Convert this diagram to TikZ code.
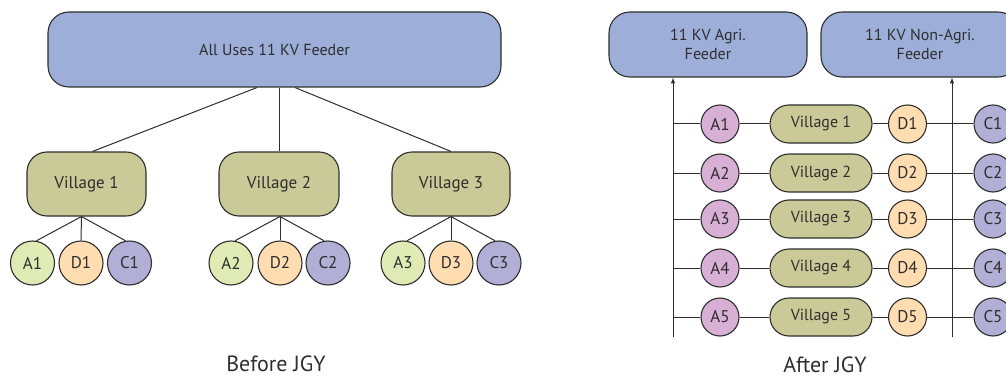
\documentclass[tikz,border=0pt]{standalone}
\usepackage{fontspec}
\setmainfont{PT Sans}
\definecolor{feedblue}{HTML}{9DAFD9}
\definecolor{villgreen}{HTML}{CACA98}
\definecolor{agrgreen}{HTML}{DFEAB4}
\definecolor{domorange}{HTML}{FFDDB0}
\definecolor{compurple}{HTML}{B2AFD6}
\definecolor{agrpink}{HTML}{D8B0D5}
\definecolor{ink}{HTML}{2E2E2E}
\tikzset{
  feeder/.style={draw=ink,line width=1.1pt,fill=feedblue,rounded corners=21pt,inner sep=0pt,align=center,font=\fontsize{16}{19}\selectfont},
  village/.style={draw=ink,line width=1.1pt,fill=villgreen,rounded corners=20pt,minimum height=64pt,inner sep=0pt,font=\fontsize{17}{20}\selectfont},
  pill/.style={draw=ink,line width=1.1pt,fill=villgreen,rounded corners=19pt,minimum width=102pt,minimum height=38pt,inner sep=0pt,font=\fontsize{16}{19}\selectfont},
  load/.style={draw=ink,line width=1.1pt,circle,inner sep=0pt,font=\fontsize{17}{20}\selectfont},
  big/.style={load,minimum size=44pt},
  small/.style={load,minimum size=38pt},
  wire/.style={draw=ink,line width=1pt}
}
\begin{document}
\begin{tikzpicture}[x=1pt,y=-1pt,text=ink]
\useasboundingbox (0,0) rectangle (1006,377);
% before
\node[feeder,minimum width=453pt,minimum height=75pt] (feed) at (274.5,49.5) {All Uses 11 KV Feeder};
\node[village,minimum width=119pt] (v1) at (86.5,184) {Village 1};
\node[village,minimum width=120pt] (v2) at (279,184) {Village 2};
\node[village,minimum width=118pt] (v3) at (451,184) {Village 3};
\draw[wire] ([xshift=-17.5pt]feed.south) -- ([xshift=6pt]v1.north);
\draw[wire] ([xshift=4.5pt]feed.south) -- (v2.north);
\draw[wire] ([xshift=20.5pt]feed.south) -- (v3.north);
\node[big,fill=agrgreen] (a1) at (32.5,263) {A1};
\node[big,fill=domorange] (d1) at (81,263) {D1};
\node[big,fill=compurple] (c1) at (129.5,263) {C1};
\node[big,fill=agrgreen] (a2) at (231,263) {A2};
\node[big,fill=domorange] (d2) at (280,263) {D2};
\node[big,fill=compurple] (c2) at (328,263) {C2};
\node[big,fill=agrgreen] (a3) at (403,263) {A3};
\node[big,fill=domorange] (d3) at (451,263) {D3};
\node[big,fill=compurple] (c3) at (499,263) {C3};
\draw[wire] ([xshift=-5pt]v1.south) -- (a1.80); \draw[wire] ([xshift=-5pt]v1.south) -- (d1.north); \draw[wire] ([xshift=-5pt]v1.south) -- (c1.100);
\draw[wire] ([xshift=1pt]v2.south) -- (a2.80); \draw[wire] ([xshift=1pt]v2.south) -- (d2.north); \draw[wire] ([xshift=1pt]v2.south) -- (c2.100);
\draw[wire] (v3.south) -- (a3.80); \draw[wire] (v3.south) -- (d3.north); \draw[wire] (v3.south) -- (c3.100);
\node[font=\fontsize{22}{26}\selectfont] (before) at (276,364) {Before JGY};
% after
\node[feeder,minimum width=198pt,minimum height=65pt] (agri) at (708,44.5) {11 KV Agri.\\Feeder};
\node[feeder,minimum width=198pt,minimum height=65pt] (nonagri) at (920,44.5) {11 KV Non-Agri.\\Feeder};
\coordinate (abus) at (673,337);
\coordinate (cbus) at (952,337);
\draw[wire,->,>=latex] (abus) -- (abus |- agri.south);
\draw[wire,->,>=latex] (cbus) -- (cbus |- nonagri.south);
\node[small,fill=agrpink] (ra1) at (720,124) {A1};
\node[pill] (rv1) at (821,124) {Village 1};
\node[small,fill=domorange] (rd1) at (907.5,124) {D1};
\node[small,fill=compurple] (rc1) at (993,124) {C1};
\node[small,fill=agrpink] (ra2) at (720,173) {A2};
\node[pill] (rv2) at (821,173) {Village 2};
\node[small,fill=domorange] (rd2) at (907.5,173) {D2};
\node[small,fill=compurple] (rc2) at (993,173) {C2};
\node[small,fill=agrpink] (ra3) at (720,219) {A3};
\node[pill] (rv3) at (821,219) {Village 3};
\node[small,fill=domorange] (rd3) at (907.5,219) {D3};
\node[small,fill=compurple] (rc3) at (993,219) {C3};
\node[small,fill=agrpink] (ra4) at (720,268) {A4};
\node[pill] (rv4) at (821,268) {Village 4};
\node[small,fill=domorange] (rd4) at (907.5,268) {D4};
\node[small,fill=compurple] (rc4) at (993,268) {C4};
\node[small,fill=agrpink] (ra5) at (720,317) {A5};
\node[pill] (rv5) at (821,317) {Village 5};
\node[small,fill=domorange] (rd5) at (907.5,317) {D5};
\node[small,fill=compurple] (rc5) at (993,317) {C5};
\draw[wire] (abus |- ra1) -- (ra1) -- (rv1) -- (rd1) -- (rc1);
\draw[wire] (abus |- ra2) -- (ra2) -- (rv2) -- (rd2) -- (rc2);
\draw[wire] (abus |- ra3) -- (ra3) -- (rv3) -- (rd3) -- (rc3);
\draw[wire] (abus |- ra4) -- (ra4) -- (rv4) -- (rd4) -- (rc4);
\draw[wire] (abus |- ra5) -- (ra5) -- (rv5) -- (rd5) -- (rc5);
\node[font=\fontsize{22}{26}\selectfont] (after) at (825,365) {After JGY};
\end{tikzpicture}
\end{document}
